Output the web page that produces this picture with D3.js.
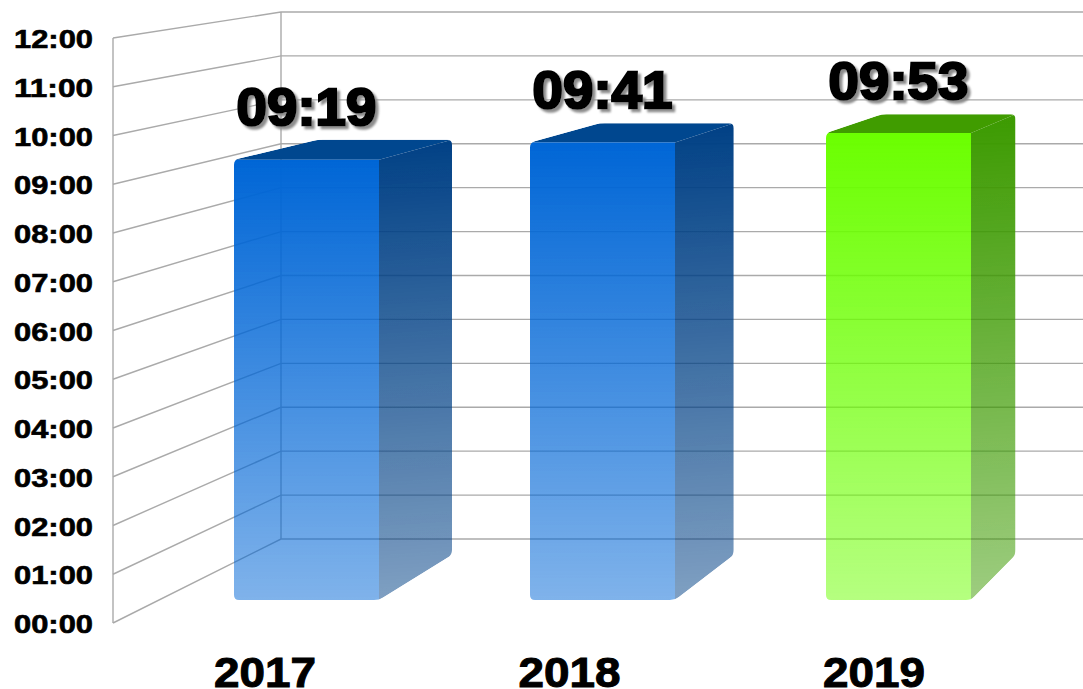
<!DOCTYPE html>
<html>
<head>
<meta charset="utf-8">
<script src="https://cdn.jsdelivr.net/npm/d3@7"></script>
<style>
html,body{margin:0;padding:0;background:#fff;overflow:hidden}
text{font-family:"Liberation Sans",Arial,sans-serif;font-weight:bold;fill:#000}
</style>
</head>
<body>
<svg id="chart" width="1083" height="689"></svg>
<script>
//数据
var years = ["2017","2018","2019"];
var times = ["09:19","09:41","09:53"];
var faceColors = ["#0566d6","#0566d6","#6bff00"];
var sideColors = ["#004085","#004085","#3c9a00"];
var topColors = ["#04478f","#04478f","#409c00"];
var tickLabels = ["00:00","01:00","02:00","03:00","04:00","05:00","06:00","07:00","08:00","09:00","10:00","11:00","12:00"];

function toMin(t){
    var p = t.split(":");
    return Number(p[0])*60+Number(p[1]);
}

var svg = d3.select("#chart");
var W = 1083;
var maxMin = toMin(tickLabels[tickLabels.length-1]);

//前墙和后墙的比例尺（透视）
var yFront = d3.scaleLinear().domain([0,maxMin]).range([623,38]);
var yBack = d3.scaleLinear().domain([0,maxMin]).range([539,12]);
//柱子前面和后面的比例尺
var barFront = d3.scaleLinear().domain([0,maxMin]).range([600,33]);
var barBack = d3.scaleLinear().domain([0,maxMin]).range([555,20]);
var xBar = d3.scalePoint().domain(years).range([306.5,898.5]);
var xBarBack = d3.scalePoint().domain(years).range([385,948.5]);
var xLabel = d3.scalePoint().domain(years).range([265,874]);

var barW = 145, backW = 134;
var wallFront = 113, wallBack = 281;

//圆角多边形，r是每个角沿边退回的距离
function roundPoly(pts,r){
    var p = d3.path();
    var n = pts.length;
    function along(a,b){
        var len = Math.hypot(b[0]-a[0],b[1]-a[1]);
        return [a[0]+(b[0]-a[0])*r/len,a[1]+(b[1]-a[1])*r/len];
    }
    pts.forEach(function(c,i){
        var prev = pts[(i+n-1)%n], next = pts[(i+1)%n];
        var a = along(c,prev), b = along(c,next);
        if(i==0) p.moveTo(a[0],a[1]); else p.lineTo(a[0],a[1]);
        p.quadraticCurveTo(c[0],c[1],b[0],b[1]);
    });
    p.closePath();
    return p.toString();
}

var defs = svg.append("defs");
defs.append("filter").attr("id","soft")
    .attr("x","-5%").attr("y","-5%").attr("width","110%").attr("height","110%")
    .append("feGaussianBlur").attr("stdDeviation",0.7);
defs.append("filter").attr("id","shadow")
    .attr("x","-5%").attr("y","-5%").attr("width","115%").attr("height","120%")
    .append("feDropShadow")
    .attr("dx",3).attr("dy",3).attr("stdDeviation",0.8)
    .attr("flood-color","#8c8c8c").attr("flood-opacity",1);

years.forEach(function(y,i){
    var v = toMin(times[i]);
    var g1 = defs.append("linearGradient").attr("id","face"+i)
        .attr("x1",0).attr("y1",0).attr("x2",0).attr("y2",1);
    g1.append("stop").attr("offset","0%").attr("stop-color",faceColors[i]).attr("stop-opacity",1);
    g1.append("stop").attr("offset","100%").attr("stop-color",faceColors[i]).attr("stop-opacity",0.5);
    var g2 = defs.append("linearGradient").attr("id","side"+i)
        .attr("gradientUnits","userSpaceOnUse")
        .attr("x1",xBarBack(y)).attr("y1",barBack(v))
        .attr("x2",xBarBack(y)+30).attr("y2",barFront(0));
    g2.append("stop").attr("offset","0%").attr("stop-color",sideColors[i]).attr("stop-opacity",1);
    g2.append("stop").attr("offset","100%").attr("stop-color",sideColors[i]).attr("stop-opacity",0.5);
});

//网格线
var grid = svg.append("g").attr("fill","none").attr("stroke","#aaaaaa").attr("stroke-width",1.4);
grid.selectAll("path.gl")
    .data(tickLabels)
    .enter()
    .append("path")
    .attr("class","gl")
    .attr("d",function(d){
        var v = toMin(d);
        return "M"+wallFront+","+yFront(v)+"L"+wallBack+","+yBack(v)+"L"+W+","+yBack(v);
    });
grid.append("path").attr("d","M"+wallFront+","+yFront(0)+"V"+yFront(maxMin));
grid.append("path").attr("d","M"+wallBack+","+yBack(0)+"V"+yBack(maxMin));

//柱子，用外轮廓裁剪出圆角
var bars = svg.selectAll("g.bar")
    .data(years)
    .enter()
    .append("g")
    .attr("class","bar")
    .attr("filter","url(#soft)");

bars.each(function(y,i){
    var v = toMin(times[i]);
    var x0 = xBar(y)-barW/2, x1 = xBar(y)+barW/2;
    var bx0 = xBarBack(y)-backW/2, bx1 = xBarBack(y)+backW/2;
    var fT = barFront(v), fB = barFront(0), bT = barBack(v), bB = barBack(0);

    var outline = [[x0,fT],[bx0,bT],[bx1,bT],[bx1,bB],[x1,fB],[x0,fB]];
    defs.append("clipPath").attr("id","clip"+i)
        .append("path").attr("d",roundPoly(outline,5));

    var g = d3.select(this).append("g").attr("clip-path","url(#clip"+i+")");
    g.append("path")
        .attr("d",d3.line()([[x0,fT],[bx0,bT],[bx1,bT],[x1,fT]])+"Z")
        .attr("fill",topColors[i]);
    g.append("path")
        .attr("d",d3.line()([[x1,fT],[bx1,bT],[bx1,bB],[x1,fB]])+"Z")
        .attr("fill","url(#side"+i+")");
    g.append("rect")
        .attr("x",x0).attr("y",fT)
        .attr("width",barW).attr("height",fB-fT)
        .attr("fill","url(#face"+i+")");
});

//y轴文字
svg.selectAll("text.tick")
    .data(tickLabels)
    .enter()
    .append("text")
    .attr("class","tick")
    .attr("x",93)
    .attr("y",function(d){return yFront(toMin(d));})
    .attr("dy","0.4em")
    .attr("text-anchor","end")
    .attr("font-size",25)
    .attr("textLength",79)
    .attr("lengthAdjust","spacingAndGlyphs")
    .attr("stroke","#000").attr("stroke-width",0.6)
    .text(function(d){return d;});

//x轴文字
svg.selectAll("text.cat")
    .data(years)
    .enter()
    .append("text")
    .attr("class","cat")
    .attr("x",function(d){return xLabel(d);})
    .attr("y",687)
    .attr("text-anchor","middle")
    .attr("font-size",42)
    .attr("textLength",102)
    .attr("lengthAdjust","spacingAndGlyphs")
    .attr("stroke","#000").attr("stroke-width",1)
    .text(function(d){return d;});

//数值标签，带阴影
var labelY = [125,108,99];
svg.selectAll("text.val")
    .data(times)
    .enter()
    .append("text")
    .attr("class","val")
    .attr("x",function(d,i){return xBar(years[i]);})
    .attr("y",function(d,i){return labelY[i];})
    .attr("text-anchor","middle")
    .attr("font-size",52)
    .attr("textLength",140)
    .attr("lengthAdjust","spacingAndGlyphs")
    .attr("stroke","#000").attr("stroke-width",2.4)
    .attr("filter","url(#shadow)")
    .text(function(d){return d;});
</script>
</body>
</html>
